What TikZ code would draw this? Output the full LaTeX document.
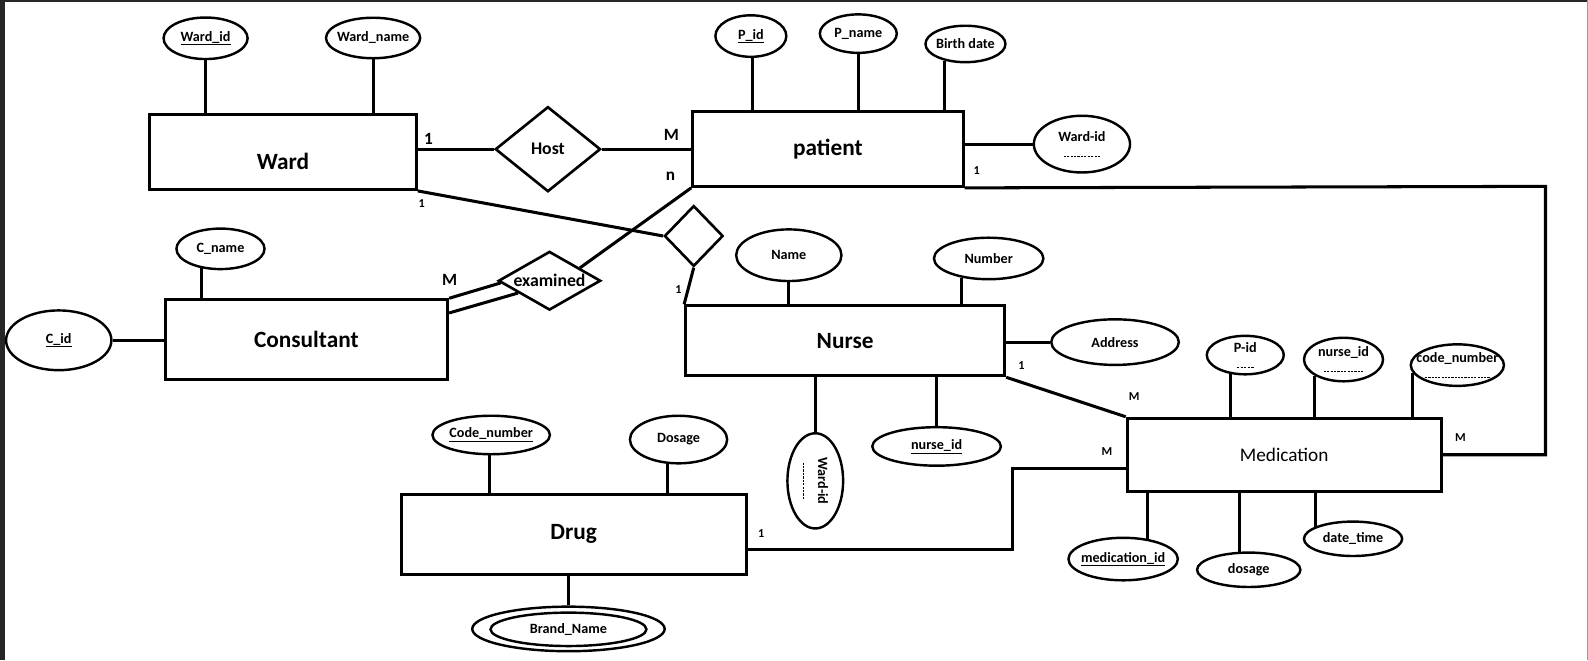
\documentclass[tikz,border=0pt]{standalone}
\usepackage{fontspec}
\setmainfont{Carlito}
\usetikzlibrary{shapes.geometric,calc}
\newcommand\dashul[1]{\setbox0\hbox{#1}\vtop{\copy0\kern1.4pt\hbox to\wd0{\hskip0.1\wd0\xleaders\hbox to 3.2pt{\hss\vrule height 1pt width 2.2pt\hss}\hfil\hskip0.1\wd0}}}
\begin{document}
\begin{tikzpicture}[x=1pt,y=-1pt,
  ent/.style={draw, rectangle, line width=3pt, inner sep=0pt, font=\bfseries\fontsize{23}{23}\selectfont},
  attr/.style={draw, ellipse, line width=2.4pt, inner sep=0pt},
  rel/.style={draw, diamond, line width=2.6pt, inner sep=0pt},
  lt/.style={font=\bfseries\fontsize{14}{14}\selectfont, inner sep=0pt},
  rt/.style={font=\bfseries\fontsize{17.5}{17.5}\selectfont, inner sep=0pt},
  con/.style={line width=3pt},
  cbig/.style={font=\bfseries\fontsize{17}{17}\selectfont, inner sep=0pt},
  csmall/.style={font=\bfseries\fontsize{12}{12}\selectfont, inner sep=0pt},
  frame/.style={fill=black!85, draw=none}]
\useasboundingbox (0,0) rectangle (1568,651.7);
\fill[frame] (0,0) rectangle (4.5,651.7);
\fill[frame] (0,0) rectangle (1568,1.8);
\fill[black!40] (1567,0) rectangle (1568,651.7);

% entities
\node[ent, minimum width=263, minimum height=74, label={[font=\bfseries\fontsize{23}{23}\selectfont, yshift=-9pt]center:Ward}] (ward) at (279.5,150) {};
\node[ent, minimum width=267, minimum height=74] (patient) at (817.5,147) {patient};
\node[ent, minimum width=279, minimum height=79] (cons) at (302.5,335.5) {Consultant};
\node[ent, minimum width=315, minimum height=69] (nurse) at (834.5,336.5) {Nurse};
\node[ent, minimum width=310, minimum height=72, font=\fontsize{19}{19}\selectfont] (med) at (1268,449) {Medication};
\node[ent, minimum width=341, minimum height=79] (drug) at (566.5,527.5) {Drug};

% relationships
\node[rel, minimum width=104, minimum height=84, label={[rt]center:Host}] (host) at (541,147.3) {};
\node[rel, minimum width=58, minimum height=60] (rel) at (685,233) {};
\node[rel, minimum width=101, minimum height=58, label={[rt]center:examined}] (exam) at (542.6,277.2) {};

% attributes
\node[attr, minimum width=83, minimum height=41, label={[lt]center:\underline{Ward\_id}}] (wardid) at (203,37.8) {};
\node[attr, minimum width=93, minimum height=40, label={[lt]center:Ward\_name}] (wardname) at (368.4,37.5) {};
\node[attr, minimum width=70, minimum height=41, label={[lt]center:\underline{P\_id}}] (pid) at (741.4,35.6) {};
\node[attr, minimum width=76, minimum height=38, label={[lt]center:P\_name}] (pname) at (847.5,33.2) {};
\node[attr, minimum width=79, minimum height=36, label={[lt]center:Birth date}] (birth) at (953.3,43.4) {};
\node[attr, minimum width=95, minimum height=56, label={[lt]center:\dashul{Ward-id}}] (pwardid) at (1068.3,142.3) {};
\node[attr, minimum width=87, minimum height=40, label={[lt]center:C\_name}] (cname) at (217.7,245.7) {};
\node[attr, minimum width=104, minimum height=59, label={[lt]center:\underline{C\_id}}] (cid) at (58,336) {};
\node[attr, minimum width=104, minimum height=51, label={[lt]center:Name}] (name) at (778.9,252) {};
\node[attr, minimum width=108, minimum height=41, label={[lt]center:Number}] (number) at (976.2,255.2) {};
\node[attr, minimum width=126, minimum height=45, label={[lt]center:Address}] (address) at (1101,337.8) {};
\node[attr, minimum width=55, minimum height=94, label={[lt,rotate=-90]center:\dashul{Ward-id}}] (nwardid) at (805,474.8) {};
\node[attr, minimum width=127, minimum height=38, label={[lt]center:\underline{nurse\_id}}] (nnurseid) at (924.8,440.8) {};
\node[attr, minimum width=76, minimum height=38, label={[lt]center:\dashul{P-id}}] (mpid) at (1229.6,350.6) {};
\node[attr, minimum width=78, minimum height=43, label={[lt]center:\dashul{nurse\_id}}] (mnurseid) at (1326.6,355) {};
\node[attr, minimum width=92, minimum height=41, label={[lt]center:\dashul{code\_number}}] (mcode) at (1439,360.5) {};
\node[attr, minimum width=108, minimum height=42, label={[lt]center:\underline{medication\_id}}] (medid) at (1109,552) {};
\node[attr, minimum width=102, minimum height=34, label={[lt]center:dosage}] (mdosage) at (1233,562.6) {};
\node[attr, minimum width=97, minimum height=34, label={[lt]center:date\_time}] (mdate) at (1336,532) {};
\node[attr, minimum width=116, minimum height=38, label={[lt]center:\underline{Code\_number}}] (dcode) at (485,429.5) {};
\node[attr, minimum width=96, minimum height=47, label={[lt]center:Dosage}] (ddos) at (670,434) {};
\node[attr, minimum width=190, minimum height=44] (brand) at (561.3,621) {};
\node[attr, minimum width=154, minimum height=33, label={[lt]center:Brand\_Name}] (brandi) at (561.3,621.4) {};

% attribute connectors
\draw[con] (wardid.south) -- (wardid.south |- ward.north);
\draw[con] (wardname.272) -- (wardname.272 |- ward.north);
\draw[con] (pid.275) -- (pid.275 |- patient.north);
\draw[con] (pname.south) -- (pname.south |- patient.north);
\draw[con] (birth.219) -- (birth.219 |- patient.north);
\draw[con] (pwardid.west) -- (pwardid.west -| patient.east);
\draw[con] (cname.226) -- (cname.226 |- cons.north);
\draw[con] (cid.east) -- (cid.east -| cons.west);
\draw[con] (name.south) -- (name.south |- nurse.north);
\draw[con] (number.215) -- (number.215 |- nurse.north);
\draw[con] (address.west) -- (address.west -| nurse.east);
\draw[con] (nwardid.north) -- (nwardid.north |- nurse.south);
\draw[con] (nnurseid.north) -- (nnurseid.north |- nurse.south);
\draw[con] (mpid.233) -- (mpid.233 |- med.north);
\draw[con] (mnurseid.209) -- (mnurseid.209 |- med.north);
\draw[con] (mcode.190) -- (mcode.190 |- med.north);
\draw[con] (medid.40) -- (medid.40 |- med.south);
\draw[con] (mdosage.118) -- (mdosage.118 |- med.south);
\draw[con] (mdate.162) -- (mdate.162 |- med.south);
\draw[con] (dcode.266) -- (dcode.266 |- drug.north);
\draw[con] (ddos.246) -- (ddos.246 |- drug.north);
\draw[con] (brand.north) -- (brand.north |- drug.south);

% relationship connectors
\draw[con] (host.west) -- (host.west -| ward.east);
\draw[con] (host.east) -- (host.east -| patient.west);
\draw[con] (ward.south east) -- (rel.west);
\draw[con] (rel.south) -- (nurse.north west);
\draw[con] (patient.south west) -- ($(exam.north)!0.58!(exam.east)$);
\coordinate (cdl) at ($(cons.north east)+(0,14.5)$);
\draw[con] (cons.north east) -- ($(exam.west)!0.07!(exam.south)$);
\draw[con] (cdl) -- ($(exam.west)!0.4!(exam.south)$);
\draw[con] (nurse.south east) -- (med.north west);
\coordinate (pm1) at (1526,184);
\coordinate (pm2) at (1526,449);
\draw[con] (patient.south east) -- (pm1) -- (pm2) -- (med.east);
\coordinate (dm1) at (1000,462.6);
\coordinate (dm2) at (1000,542.2);
\draw[con] (dm1 -| med.west) -- (dm1) -- (dm2) -- (dm2 -| drug.east);

% cardinalities
\node[cbig] (c1) at (423,137.5) {1};
\node[cbig] (c2) at (663,133) {M};
\node[cbig] (c3) at (662,174) {n};
\node[csmall] (c4) at (416.5,200.5) {1};
\node[cbig] (c5) at (444,276.5) {M};
\node[csmall] (c6) at (670,285.5) {1};
\node[csmall] (c7) at (964.5,168) {1};
\node[csmall] (c8) at (1008.5,360.5) {1};
\node[csmall] (c9) at (1120,392) {M};
\node[csmall] (c10) at (1093,446) {M};
\node[csmall] (c11) at (1442,432) {M};
\node[csmall] (c12) at (751.5,527) {1};
\end{tikzpicture}
\end{document}
